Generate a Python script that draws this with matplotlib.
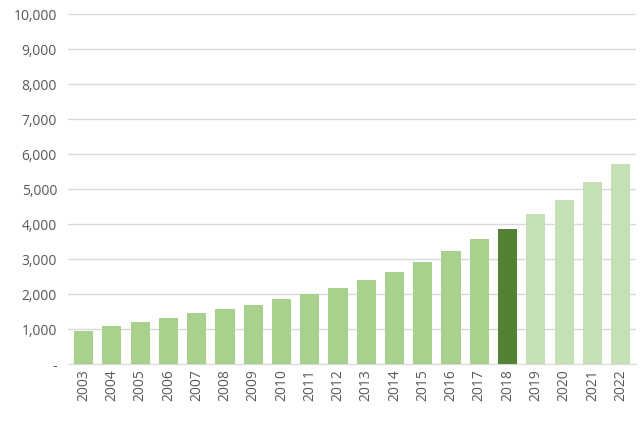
import matplotlib
matplotlib.use("Agg")
import matplotlib.pyplot as plt

years = [str(y) for y in range(2003, 2023)]
values = [950, 1100, 1200, 1330, 1450, 1570, 1680, 1850, 2000, 2170, 2400, 2630, 2920, 3230, 3570, 3860, 4290, 4690, 5200, 5710]
yticks = list(range(0, 10001, 1000))
ylabels = ["-"] + [f"{v:,}" for v in yticks[1:]]

colors = []
for y in years:
    if int(y) < 2018:
        colors.append("#a9d18e")
    elif int(y) == 2018:
        colors.append("#548235")
    else:
        colors.append("#c5e0b4")

plt.rcParams["font.family"] = "Open Sans"
fig = plt.figure(figsize=(6.42, 4.43), dpi=100)
ax = fig.add_axes([0.106, 0.178, 0.885, 0.79])
x = range(len(years))
ax.bar(x, values, width=0.68, color=colors, zorder=3)
ax.set_ylim(0, 10000)
ax.set_xlim(-0.55, len(years) - 0.45)
ax.set_yticks(yticks)
ax.set_yticklabels(ylabels)
ax.set_xticks(list(x))
ax.set_xticklabels(years, rotation=90)
ax.grid(axis="y", color="#d9d9d9", linewidth=1, zorder=0)
for s in ["top", "right", "left"]:
    ax.spines[s].set_visible(False)
ax.spines["bottom"].set_color("#d9d9d9")
ax.tick_params(axis="both", length=0, colors="#595959", labelsize=10)
ax.tick_params(axis="y", pad=8)
fig.savefig("out.png", dpi=100)
